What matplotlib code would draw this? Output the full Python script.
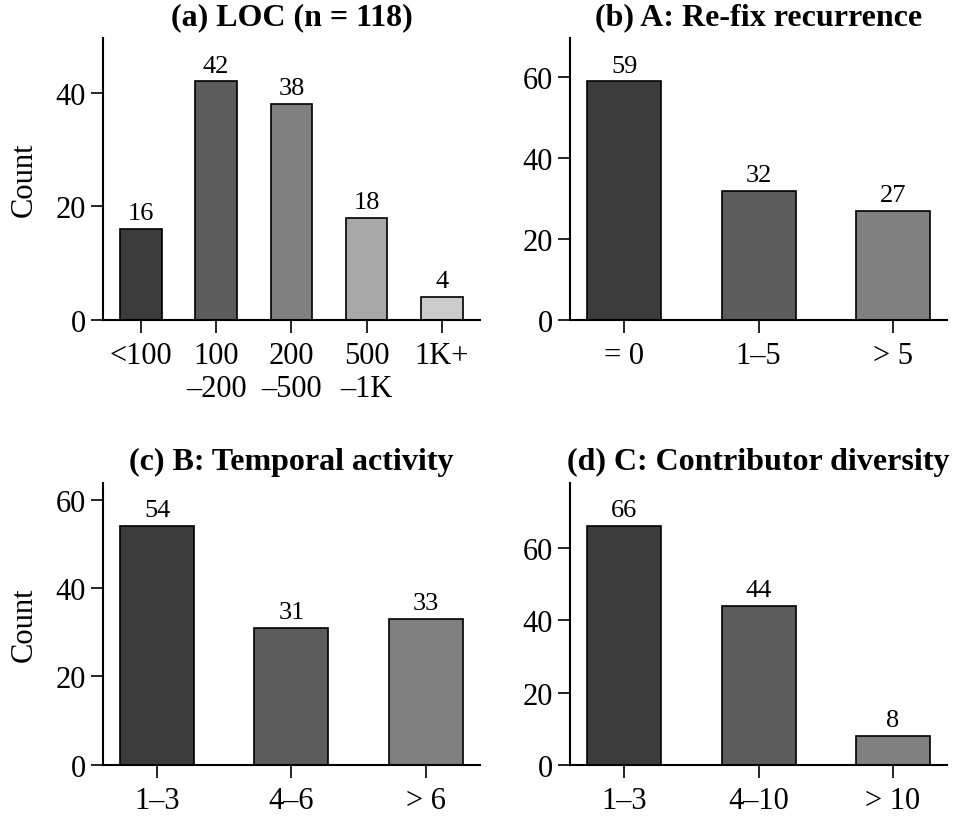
import matplotlib
matplotlib.use("Agg")
import matplotlib.pyplot as plt
from matplotlib.ticker import MultipleLocator

plt.rcParams["font.family"] = ["Liberation Serif", "DejaVu Serif"]

# ---------------- DATA ----------------
loc_labels = ["<100", "100\n\u2013200", "200\n\u2013500", "500\n\u20131K", "1K+"]
loc_counts = [16, 42, 38, 18, 4]

refix_labels = ["= 0", "1\u20135", "> 5"]
refix_counts = [59, 32, 27]

temporal_labels = ["1\u20133", "4\u20136", "> 6"]
temporal_counts = [54, 31, 33]

contrib_labels = ["1\u20133", "4\u201310", "> 10"]
contrib_counts = [66, 44, 8]

titles = ["(a) LOC (n = 118)", "(b) A: Re-fix recurrence",
          "(c) B: Temporal activity", "(d) C: Contributor diversity"]

greys = ["#3c3c3c", "#5c5c5c", "#808080", "#a8a8a8", "#cccccc"]

panels = [(loc_labels, loc_counts), (refix_labels, refix_counts),
          (temporal_labels, temporal_counts), (contrib_labels, contrib_counts)]

# ---------------- PLOT ----------------
fig, axs = plt.subplots(2, 2, figsize=(9.58, 8.2), dpi=100)
fig.subplots_adjust(left=0.1075, right=0.9885, top=0.952, bottom=0.066,
                    wspace=0.24, hspace=0.58)

for i, ax in enumerate(axs.flat):
    labels, counts = panels[i]
    x = range(len(counts))
    bars = ax.bar(x, counts, width=0.55, color=greys[:len(counts)],
                  edgecolor="black", linewidth=1.2)
    for b, c in zip(bars, counts):
        ax.text(b.get_x() + b.get_width() / 2, c + max(counts) * 0.02, str(c),
                ha="center", va="bottom", fontsize=19)
    ax.set_xticks(list(x))
    ax.set_xticklabels(labels)
    ax.set_ylim(0, max(counts) * 1.18)
    ax.yaxis.set_major_locator(MultipleLocator(20))
    ax.set_title(titles[i], fontsize=23, fontweight="bold", pad=10)
    ax.spines["top"].set_visible(False)
    ax.spines["right"].set_visible(False)
    ax.spines["left"].set_linewidth(1.5)
    ax.spines["bottom"].set_linewidth(1.5)
    ax.tick_params(axis="both", labelsize=22, length=9, width=1.2)
    ax.tick_params(axis="x", pad=6)
    if i % 2 == 0:
        ax.set_ylabel("Count", fontsize=22, labelpad=12)

plt.savefig("out.png")
